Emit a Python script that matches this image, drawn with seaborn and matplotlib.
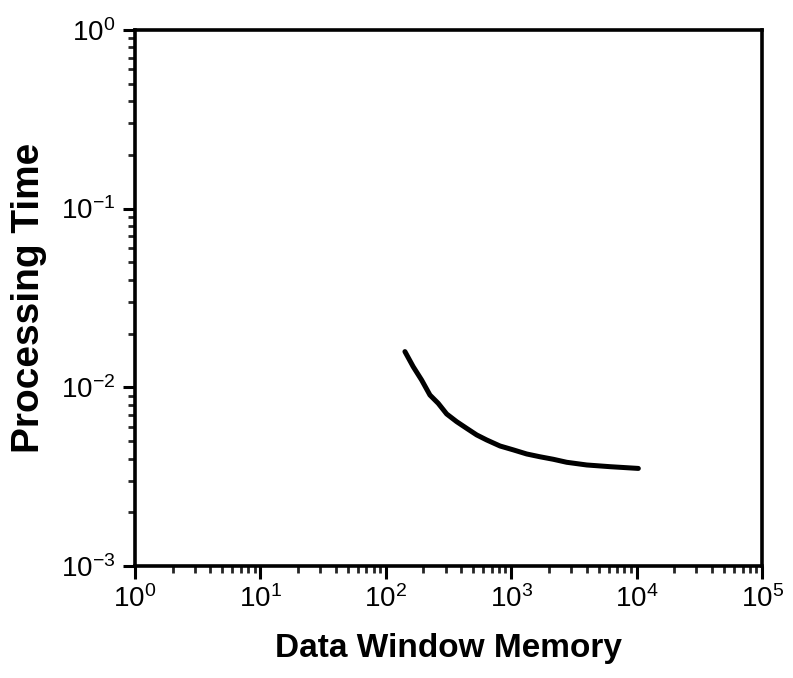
import matplotlib
matplotlib.use("Agg")
import matplotlib.pyplot as plt
import matplotlib.ticker as mticker
import seaborn as sns
import pandas as pd
import numpy as np

# Data
memory = [142.3, 165.6, 193.3, 225.1, 262.2, 306.0, 367.6, 441.7, 530.9, 637.7,
          814.5, 1040, 1330, 1697, 2167, 2772, 4002, 6138, 10320]
proc_time = [0.01585, 0.01305, 0.01099, 0.00906, 0.00814, 0.00710, 0.00643,
             0.00590, 0.00542, 0.00508, 0.00470, 0.00447, 0.00424, 0.00409,
             0.00396, 0.00381, 0.00368, 0.00360, 0.00352]
x_label = "Data Window Memory"
y_label = "Processing Time"

sns.set_style("ticks")
plt.rcParams['font.family'] = ['Liberation Sans', 'DejaVu Sans']
plt.rcParams['mathtext.fontset'] = 'custom'
plt.rcParams['mathtext.rm'] = 'Liberation Sans'
plt.rcParams['mathtext.it'] = 'Liberation Sans'
plt.rcParams['mathtext.bf'] = 'Liberation Sans:bold'

df = pd.DataFrame({"memory": memory, "time": proc_time})

fig = plt.figure(figsize=(7.93, 6.78), dpi=100)
ax = fig.add_axes([0.170, 0.165, 0.791, 0.791])

sns.lineplot(data=df, x="memory", y="time", ax=ax, color="black", linewidth=3.6)

ax.set_xscale("log")
ax.set_yscale("log")
ax.set_xlim(1, 1e5)
ax.set_ylim(1e-3, 1)

def fmt(v, pos):
    e = int(round(np.log10(v)))
    return r"$\mathregular{10^{%d}}$" % e

ax.xaxis.set_major_locator(mticker.LogLocator(base=10, numticks=10))
ax.yaxis.set_major_locator(mticker.LogLocator(base=10, numticks=10))
ax.xaxis.set_minor_locator(mticker.LogLocator(base=10, subs=np.arange(2, 10), numticks=20))
ax.yaxis.set_minor_locator(mticker.LogLocator(base=10, subs=np.arange(2, 10), numticks=20))
ax.xaxis.set_major_formatter(mticker.FuncFormatter(fmt))
ax.yaxis.set_major_formatter(mticker.FuncFormatter(fmt))
ax.xaxis.set_minor_formatter(mticker.NullFormatter())
ax.yaxis.set_minor_formatter(mticker.NullFormatter())

for sp in ax.spines.values():
    sp.set_visible(True)
    sp.set_linewidth(2.6)
    sp.set_color("black")

ax.tick_params(axis="both", which="major", direction="out", length=9, width=2.2,
               labelsize=20, colors="black", pad=5)
ax.tick_params(axis="both", which="minor", direction="out", length=5, width=2.0)
ax.tick_params(top=False, right=False, which="both")

ax.set_xlabel(x_label, fontsize=24, fontweight="bold", labelpad=14, color="black")
ax.set_ylabel(y_label, fontsize=28, fontweight="bold", labelpad=10, color="black")
ax.grid(False)

fig.savefig("out.png", dpi=100, facecolor="white")
